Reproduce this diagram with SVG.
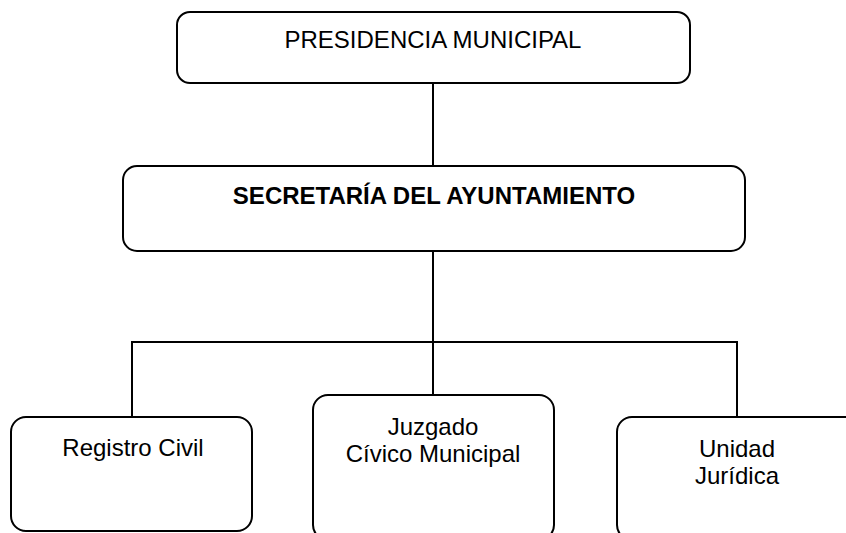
<svg xmlns="http://www.w3.org/2000/svg" width="846" height="533" viewBox="0 0 846 533">
<style>
.box{fill:#fff;stroke:#000;stroke-width:2}
.ln{stroke:#000;stroke-width:2;fill:none}
text{font-family:"Liberation Sans",Arial,sans-serif;font-size:24px;fill:#000;text-anchor:middle}
.b{font-weight:bold}
</style>
<rect width="846" height="533" fill="#fff"/>
<g id="connectors">
<line class="ln" x1="433" y1="83" x2="433" y2="166"/>
<line class="ln" x1="433" y1="251" x2="433" y2="395"/>
<polyline class="ln" points="132,417 132,342 737,342 737,417"/>
</g>
<g id="presidencia">
<rect class="box" x="177" y="12" width="513" height="71" rx="13"/>
<text x="433" y="48">PRESIDENCIA MUNICIPAL</text>
</g>
<g id="secretaria">
<rect class="box" x="123" y="166" width="622" height="85" rx="14"/>
<text class="b" x="434" y="204">SECRETARÍA DEL AYUNTAMIENTO</text>
</g>
<g id="registro">
<rect class="box" x="11" y="417" width="241" height="114" rx="15"/>
<text x="133" y="456">Registro Civil</text>
</g>
<g id="juzgado">
<rect class="box" x="313" y="395" width="241" height="145" rx="15"/>
<text x="433" y="435">Juzgado</text>
<text x="433" y="462">Cívico Municipal</text>
</g>
<g id="unidad">
<rect class="box" x="617" y="417" width="245" height="123" rx="15"/>
<text x="737" y="457">Unidad</text>
<text x="737" y="484">Jurídica</text>
</g>
</svg>
